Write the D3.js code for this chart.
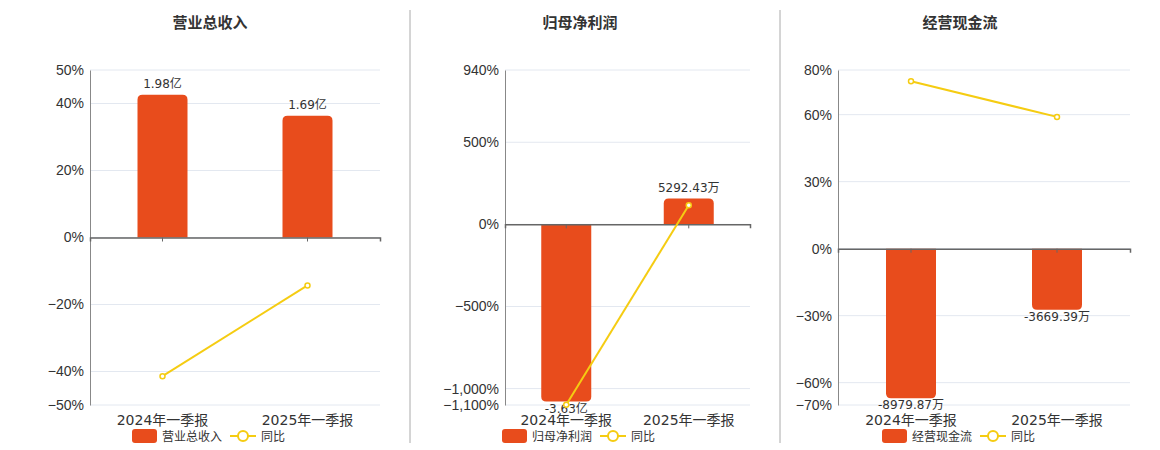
<!DOCTYPE html>
<html>
<head>
<meta charset="utf-8">
<script src="https://d3js.org/d3.v7.min.js"></script>
<style>
  body { margin: 0; background: #fff; font-family: "DejaVu Sans", "Noto Sans CJK SC", sans-serif; }
</style>
</head>
<body>
<div id="chart"></div>
<script>
// data
var categories = ["2024年一季报", "2025年一季报"];
var titles = ["营业总收入", "归母净利润", "经营现金流"];
var barValues = [[19800, 16900], [-36300, 5292.43], [-8979.87, -3669.39]]; // 万
var barLabels = [["1.98亿", "1.69亿"], ["-3.63亿", "5292.43万"], ["-8979.87万", "-3669.39万"]];
var yoyValues = [[-41.4, -14.3], [-1098, 116], [75, 59]];
var tickValues = [[50, 40, 20, 0, -20, -40, -50], [940, 500, 0, -500, -1000, -1100], [80, 60, 30, 0, -30, -60, -70]];
var barPct = [[42.6], [-1000], [-67]]; // axis value reached by largest bar

var panels = [
  {x0: 90, x1: 380, cx: 210},
  {x0: 505, x1: 750, cx: 580},
  {x0: 838, x1: 1130, cx: 960}
];
var plotTop = 70, plotBottom = 405;

var svg = d3.select("#chart").append("svg").attr("width", 1160).attr("height", 450);

[410, 780].forEach(function (x) {
  svg.append("line").attr("x1", x).attr("x2", x).attr("y1", 10).attr("y2", 443)
    .attr("stroke", "#aaa");
});

function barPath(x, w, y0, y1, r) {
  var s = y1 < y0 ? 1 : -1;
  r = Math.min(r, Math.abs(y0 - y1));
  return "M" + x + "," + y0 + "V" + (y1 + s * r) +
    "Q" + x + "," + y1 + " " + (x + s * 0 + r) + "," + y1 +
    "H" + (x + w - r) + "Q" + (x + w) + "," + y1 + " " + (x + w) + "," + (y1 + s * r) +
    "V" + y0 + "Z";
}

panels.forEach(function (p, i) {
  var ticks = tickValues[i];
  var y = d3.scaleLinear().domain([d3.min(ticks), d3.max(ticks)]).range([plotBottom, plotTop]);
  var x = d3.scaleBand().domain(categories).range([p.x0, p.x1]);
  var maxAbs = d3.max(barValues[i], function (v) { return Math.abs(v); });
  var big = barValues[i].find(function (v) { return Math.abs(v) === maxAbs; });
  var yb = d3.scaleLinear().domain([0, big]).range([y(0), y(barPct[i][0]) - (i === 1 ? -13 : 0)]);
  var g = svg.append("g");

  g.append("text").attr("x", p.cx).attr("y", 28).attr("text-anchor", "middle")
    .style("font-size", "15px").style("font-weight", "bold").attr("fill", "#333").text(titles[i]);

  g.selectAll(".grid").data(ticks).enter().append("line")
    .attr("x1", p.x0).attr("x2", p.x1).attr("y1", function (d) { return y(d); }).attr("y2", function (d) { return y(d); })
    .attr("stroke", "#e3e8f0");

  var ax = g.append("g").attr("transform", "translate(" + p.x0 + ",0)")
    .call(d3.axisLeft(y).tickValues(ticks).tickSize(0).tickPadding(6)
      .tickFormat(function (d) { return d3.format(",")(d) + "%"; }));
  ax.select(".domain").attr("stroke", "#888");
  ax.selectAll("text").style("font-size", "14px").attr("fill", "#333");

  var bw = 50;
  barValues[i].forEach(function (v, j) {
    var bx = x(categories[j]) + x.bandwidth() / 2 - bw / 2;
    g.append("path").attr("d", barPath(bx, bw, yb(0), yb(v), 5)).attr("fill", "#e84c1c");
    g.append("text").attr("x", bx + bw / 2).attr("y", v >= 0 ? yb(v) - 7 : yb(v) + 11)
      .attr("text-anchor", "middle").style("font-size", "12px").attr("fill", "#333").text(barLabels[i][j]);
  });

  var xa = g.append("g").attr("transform", "translate(0," + y(0) + ")")
    .call(d3.axisBottom(x).tickSize(4).tickFormat(""));
  xa.select(".domain").attr("stroke", "#666").attr("stroke-width", 1.5);
  xa.selectAll("line").attr("stroke", "#666");

  categories.forEach(function (c) {
    g.append("text").attr("x", x(c) + x.bandwidth() / 2).attr("y", 425).attr("text-anchor", "middle")
      .style("font-size", "14px").attr("fill", "#333").text(c);
  });

  var line = d3.line().x(function (d, j) { return x(categories[j]) + x.bandwidth() / 2; }).y(function (d) { return y(d); });
  g.append("path").datum(yoyValues[i]).attr("d", line).attr("fill", "none").attr("stroke", "#f5cc12").attr("stroke-width", 2);
  yoyValues[i].forEach(function (v, j) {
    g.append("circle").attr("cx", x(categories[j]) + x.bandwidth() / 2).attr("cy", y(v)).attr("r", 2.5)
      .attr("fill", "#fff").attr("stroke", "#f5cc12").attr("stroke-width", 1.5);
  });

  var lx = p.cx - 78;
  g.append("rect").attr("x", lx).attr("y", 429).attr("width", 25).attr("height", 14).attr("rx", 3).attr("fill", "#e84c1c");
  g.append("text").attr("x", lx + 30).attr("y", 441).style("font-size", "12px").attr("fill", "#333").text(titles[i]);
  var l2 = lx + 30 + titles[i].length * 12 + 8;
  g.append("line").attr("x1", l2).attr("x2", l2 + 26).attr("y1", 436).attr("y2", 436).attr("stroke", "#f5cc12").attr("stroke-width", 2);
  g.append("circle").attr("cx", l2 + 13).attr("cy", 436).attr("r", 5).attr("fill", "#fff").attr("stroke", "#f5cc12").attr("stroke-width", 2);
  g.append("text").attr("x", l2 + 31).attr("y", 441).style("font-size", "12px").attr("fill", "#333").text("同比");
});
</script>
</body>
</html>
